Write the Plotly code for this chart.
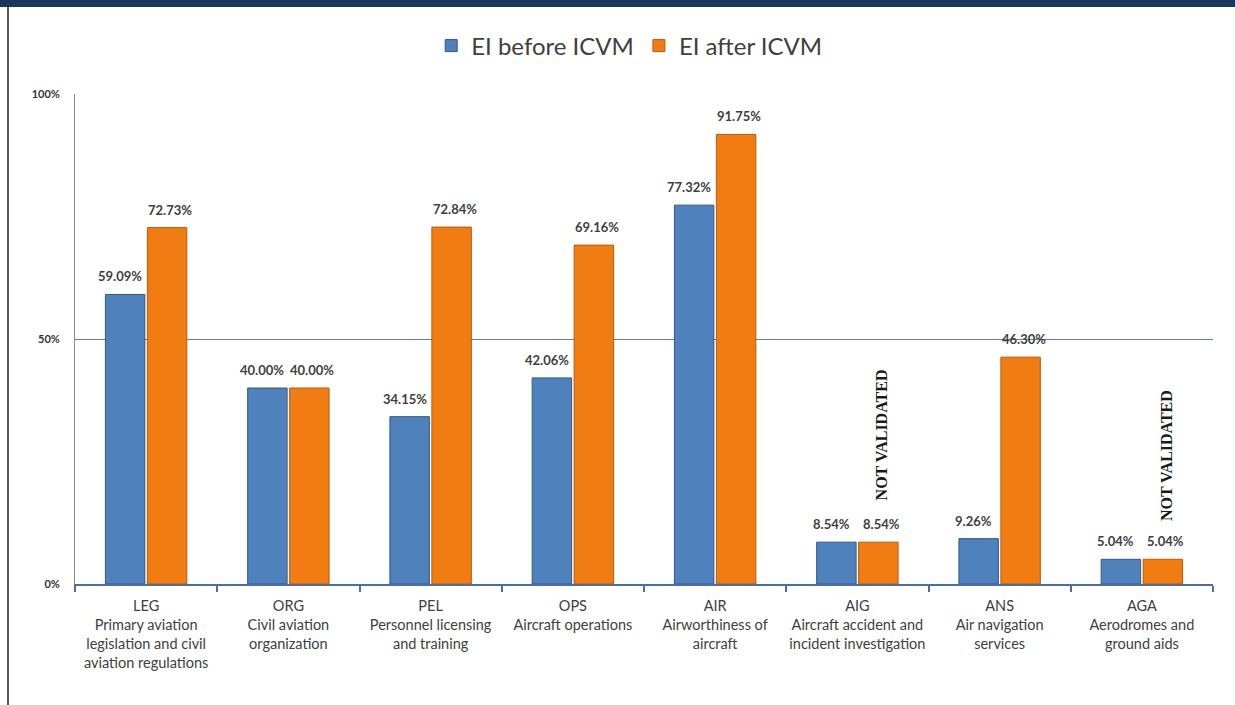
import plotly.graph_objects as go

categories = [
    "LEG<br>Primary aviation<br>legislation and civil<br>aviation regulations",
    "ORG<br>Civil aviation<br>organization",
    "PEL<br>Personnel licensing<br>and training",
    "OPS<br>Aircraft operations",
    "AIR<br>Airworthiness of<br>aircraft",
    "AIG<br>Aircraft accident and<br>incident investigation",
    "ANS<br>Air navigation<br>services",
    "AGA<br>Aerodromes and<br>ground aids",
]
ei_before = [0.5909, 0.4000, 0.3415, 0.4206, 0.7732, 0.0854, 0.0926, 0.0504]
ei_after = [0.7273, 0.4000, 0.7284, 0.6916, 0.9175, 0.0854, 0.4630, 0.0504]
not_validated = [5, 7]  # category indexes with "NOT VALIDATED" note
not_validated_y = [0.304, 0.263]

BLUE = "#4F81BD"
ORANGE = "#F07C12"
TXT = "#404040"
FONT = "Lato, 'Open Sans', sans-serif"

fig = go.Figure()
fig.add_trace(go.Bar(name="EI before ICVM", x=categories, y=ei_before,
                     marker=dict(color=BLUE, line=dict(color="#2F5A8C", width=1))))
fig.add_trace(go.Bar(name="EI after ICVM", x=categories, y=ei_after,
                     marker=dict(color=ORANGE, line=dict(color="#B85A08", width=1))))

ann = []
for i, c in enumerate(categories):
    ann.append(dict(x=c, y=ei_before[i], xref="x", yref="y", text=f"{ei_before[i]*100:.2f}%",
                    showarrow=False, xshift=-26, yshift=18, yanchor="middle",
                    font=dict(family=FONT, size=13, color=TXT, weight="bold")))
    ann.append(dict(x=c, y=ei_after[i], xref="x", yref="y", text=f"{ei_after[i]*100:.2f}%",
                    showarrow=False, xshift=24, yshift=18, yanchor="middle",
                    font=dict(family=FONT, size=13, color=TXT, weight="bold")))
for k, idx in enumerate(not_validated):
    ann.append(dict(x=categories[idx], y=not_validated_y[k], xref="x", yref="y",
                    text="<b>NOT VALIDATED</b>", textangle=-90, showarrow=False,
                    xshift=24, font=dict(family="'Liberation Serif', 'Times New Roman', serif",
                                         size=16, color="#1a1a1a")))

shapes = [
    dict(type="rect", xref="paper", yref="paper", x0=-0.07, x1=1.02,
         y0=1 + 87 / 490, y1=1 + 100 / 490, fillcolor="#17365D", line=dict(width=0), layer="above"),
    dict(type="line", xref="paper", yref="paper", x0=(8 - 75) / 1138, x1=(8 - 75) / 1138,
         y0=1 + 88 / 490, y1=-130 / 490, line=dict(color="#222222", width=1.5)),
]

fig.update_layout(
    width=1235, height=705,
    margin=dict(l=75, r=22, t=94, b=121, autoexpand=False),
    paper_bgcolor="white", plot_bgcolor="white",
    barmode="group", bargap=0.41, bargroupgap=0.06,
    font=dict(family=FONT, color=TXT),
    legend=dict(orientation="h", x=0.487, xanchor="center", y=1 + 48 / 490, yanchor="middle",
                font=dict(family=FONT, size=24, color=TXT), itemwidth=30,
                traceorder="normal"),
    annotations=ann,
    shapes=shapes,
    xaxis=dict(showline=True, linecolor="#4A6FA5", linewidth=1.5, ticks="outside",
               tickson="boundaries", ticklen=6, tickcolor="#4A6FA5", tickwidth=1.5,
               tickangle=0,
               tickfont=dict(family=FONT, size=14.5, color=TXT), showgrid=False,
               ticklabelstandoff=8, fixedrange=True),
    yaxis=dict(range=[0, 1], tickvals=[0, 0.5, 1], ticktext=["0%", "50%", "100%"],
               showgrid=True, gridcolor="#5F7FA6", gridwidth=1.2,
               showline=True, linecolor="#8C8C8C", linewidth=1, zeroline=False,
               tickfont=dict(family=FONT, size=11, color="#333333", weight="bold"),
               ticklabelstandoff=12, ticks=""),
)

fig.write_html("out.html")
